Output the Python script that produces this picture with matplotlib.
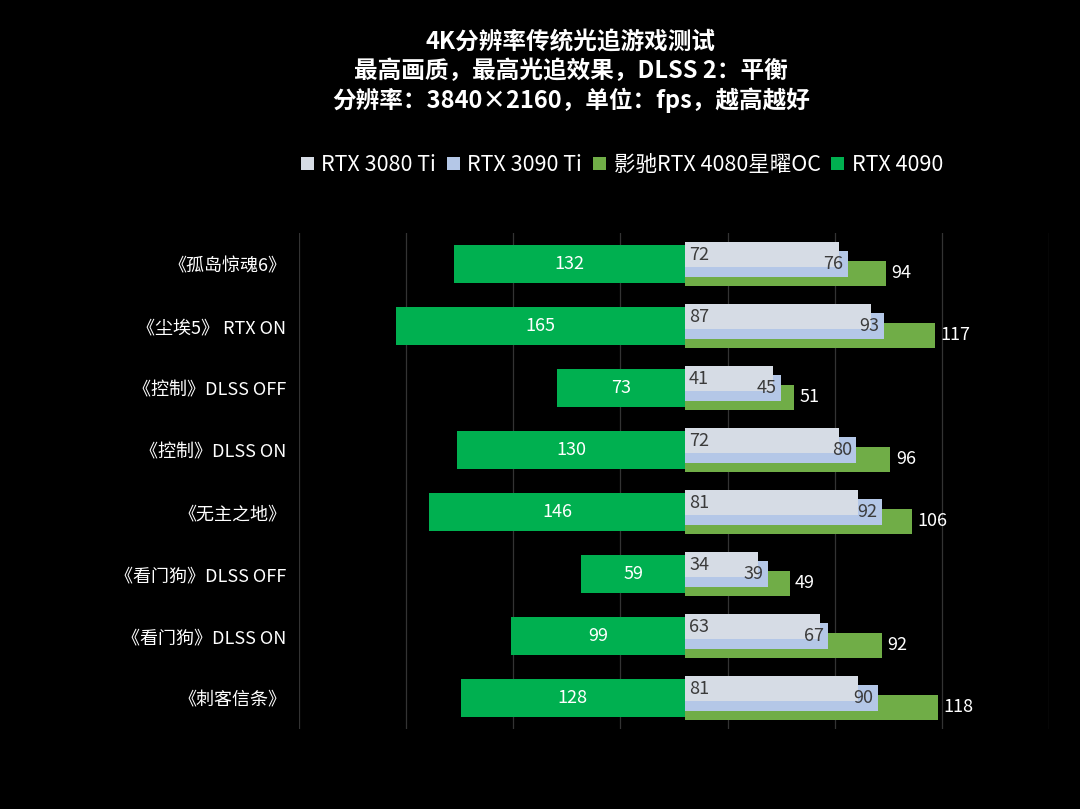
import matplotlib.pyplot as plt
import numpy as np

plt.rcParams['font.family'] = ['Noto Sans CJK SC', 'DejaVu Sans']

games = ['《孤岛惊魂6》', '《尘埃5》 RTX ON', '《控制》DLSS OFF', '《控制》DLSS ON',
         '《无主之地》', '《看门狗》DLSS OFF', '《看门狗》DLSS ON', '《刺客信条》']
rtx3080ti = [72, 87, 41, 72, 81, 34, 63, 81]
rtx3090ti = [76, 93, 45, 80, 92, 39, 67, 90]
rtx4080 = [94, 117, 51, 96, 106, 49, 92, 118]
rtx4090 = [132, 165, 73, 130, 146, 59, 99, 128]
series_names = ['RTX 3080 Ti', 'RTX 3090 Ti', '影驰RTX 4080星曜OC', 'RTX 4090']

c3080 = '#D6DCE5'
c3090 = '#B4C7E7'
c4080 = '#70AD47'
c4090 = '#00B050'

fig = plt.figure(figsize=(10.8, 8.09), dpi=100, facecolor='black')
ax = fig.add_axes([299/1080, 1-729/809, 750/1080, 496/809], facecolor='black')

y = np.arange(len(games))
h = 0.41
off = 0.153

ax.set_xlim(-180, 170)
ax.set_xticks(np.arange(-180, 171, 50))
ax.xaxis.grid(True, color='#333333', linewidth=0.9)
ax.set_axisbelow(True)
ax.tick_params(axis='x', length=0, labelbottom=False)

b80 = ax.barh(y + off, rtx4080, height=h, color=c4080, zorder=2)
b90 = ax.barh(y, rtx3090ti, height=h, color=c3090, zorder=3)
b30 = ax.barh(y - off, rtx3080ti, height=h, color=c3080, zorder=4)

for i in range(len(games)):
    ax.text(2, y[i] - off, str(rtx3080ti[i]), ha='left', va='center',
            fontsize=13, color='#3b3b3b', zorder=6)
    ax.text(rtx3090ti[i] - 2, y[i], str(rtx3090ti[i]), ha='right', va='center',
            fontsize=13, color='#3b3b3b', zorder=6)
    ax.text(rtx4080[i] + 2.5, y[i] + off, str(rtx4080[i]), ha='left', va='center',
            fontsize=13, color='white', zorder=6)

ax.set_yticks(y)
ax.set_yticklabels(games, fontsize=13, color='white')
ax.tick_params(axis='y', length=0, pad=9)
for s in ax.spines.values():
    s.set_visible(False)

# RTX 4090 on its own scale, going left
ax2 = ax.twiny()
ax2.set_xlim(-220.4, 208.2)
b4090 = ax2.barh(y, [-v for v in rtx4090], height=0.61, color=c4090, zorder=2)
for i in range(len(games)):
    ax2.text(-rtx4090[i] / 2, y[i], str(rtx4090[i]), ha='center', va='center',
             fontsize=13, color='white')
ax2.set_xticks([])
for s in ax2.spines.values():
    s.set_visible(False)
ax.set_ylim(len(games) - 0.5, -0.5)

# title
fig.text(571/1080, 1-42/809, '4K分辨率传统光追游戏测试', ha='center', va='center',
         fontsize=17, fontweight='bold', color='white')
fig.text(571/1080, 1-71/809, '最高画质，最高光追效果，DLSS 2：平衡', ha='center', va='center',
         fontsize=17, fontweight='bold', color='white')
fig.text(571/1080, 1-100/809, '分辨率：3840×2160，单位：fps，越高越好', ha='center', va='center',
         fontsize=17, fontweight='bold', color='white')

handles = [b30, b90, b80, b4090]
leg = fig.legend(handles, series_names, loc='center', bbox_to_anchor=(622/1080, 1-165/809),
                 ncol=4, frameon=False, fontsize=15.5, labelcolor='white',
                 handlelength=0.6, handleheight=0.6, handletextpad=0.35,
                 columnspacing=0.5)

fig.savefig('out.png', dpi=100, facecolor='black')
